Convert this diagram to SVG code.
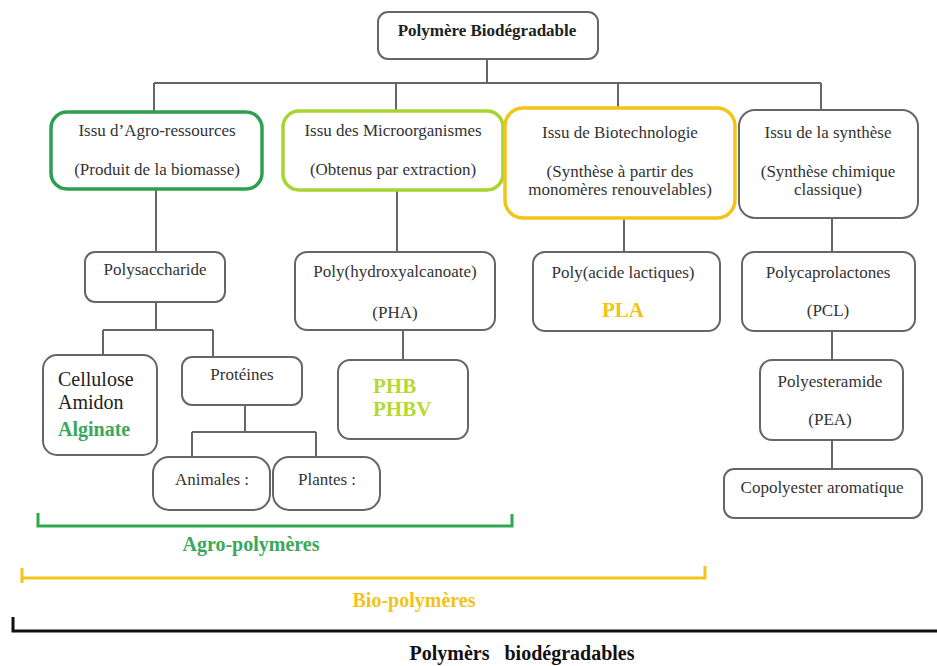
<svg xmlns="http://www.w3.org/2000/svg" width="937" height="666" viewBox="0 0 937 666">
<style>
.box{fill:#fff;stroke:#666;stroke-width:2}
.g1{fill:#fff;stroke:#2e9e4f;stroke-width:3.5}
.g2{fill:#fff;stroke:#a8d432;stroke-width:3.5}
.y1{fill:#fff;stroke:#f2c318;stroke-width:3.5}
text{font-family:'Liberation Serif','DejaVu Serif',serif}
.t{font-size:17px;fill:#333;text-anchor:middle}
.tb{font-weight:bold;fill:#222;text-anchor:middle}
.big{font-size:20px;fill:#222}
.conn line{stroke:#666;stroke-width:2;fill:none}
</style>
<rect width="937" height="666" fill="#fff"/>
<g id="connectors" class="conn">
<line x1="487" y1="59" x2="487" y2="83"/>
<line x1="154" y1="83" x2="821" y2="83"/>
<line x1="154" y1="83" x2="154" y2="112"/>
<line x1="396" y1="83" x2="396" y2="111"/>
<line x1="618" y1="83" x2="618" y2="108"/>
<line x1="821" y1="83" x2="821" y2="110"/>
<line x1="156" y1="189" x2="156" y2="252"/>
<line x1="156" y1="302" x2="156" y2="330"/>
<line x1="103" y1="330" x2="213" y2="330"/>
<line x1="103" y1="330" x2="103" y2="355"/>
<line x1="213" y1="330" x2="213" y2="357"/>
<line x1="245" y1="405" x2="245" y2="432"/>
<line x1="192" y1="432" x2="316" y2="432"/>
<line x1="192" y1="432" x2="192" y2="457"/>
<line x1="316" y1="432" x2="316" y2="457"/>
<line x1="397" y1="190" x2="397" y2="252"/>
<line x1="403" y1="330" x2="403" y2="360"/>
<line x1="624" y1="218" x2="624" y2="252"/>
<line x1="832" y1="218" x2="832" y2="252"/>
<line x1="832" y1="331" x2="832" y2="360"/>
<line x1="832" y1="440" x2="832" y2="469"/>
</g>
<g id="root"><rect class="box" x="378" y="12" width="220" height="47" rx="10"/><text class="tb" x="487" y="36" font-size="17">Polymère Biodégradable</text></g>
<g id="agro"><rect class="g1" x="51" y="112" width="211" height="77" rx="16"/><text class="t" x="157" y="136">Issu d’Agro-ressources</text><text class="t" x="157" y="175">(Produit de la biomasse)</text></g>
<g id="micro"><rect class="g2" x="283" y="111" width="220" height="79" rx="16"/><text class="t" x="393" y="136">Issu des Microorganismes</text><text class="t" x="393" y="175">(Obtenus par extraction)</text></g>
<g id="biotech"><rect class="y1" x="505" y="108" width="230" height="110" rx="18"/><text class="t" x="620" y="138">Issu de Biotechnologie</text><text class="t" x="620" y="177">(Synthèse à partir des</text><text class="t" x="620" y="195">monomères renouvelables)</text></g>
<g id="synthese"><rect class="box" x="739" y="110" width="179" height="108" rx="16"/><text class="t" x="828" y="138">Issu de la synthèse</text><text class="t" x="828" y="177">(Synthèse chimique</text><text class="t" x="828" y="195">classique)</text></g>
<g id="polysaccharide"><rect class="box" x="85" y="252" width="140" height="50" rx="10"/><text class="t" x="155" y="275">Polysaccharide</text></g>
<g id="cellulose"><rect class="box" x="43" y="355" width="114" height="100" rx="14"/><text class="big" x="58" y="386">Cellulose</text><text class="big" x="58" y="409">Amidon</text><text class="big" x="58" y="436" style="font-weight:bold;fill:#3aa85a">Alginate</text></g>
<g id="proteines"><rect class="box" x="182" y="357" width="120" height="48" rx="10"/><text class="t" x="242" y="380">Protéines</text></g>
<g id="animales"><rect class="box" x="153" y="457" width="117" height="53" rx="16"/><text class="t" x="212" y="485">Animales :</text></g>
<g id="plantes"><rect class="box" x="273" y="457" width="107" height="53" rx="16"/><text class="t" x="327" y="485">Plantes :</text></g>
<g id="pha"><rect class="box" x="295" y="252" width="200" height="78" rx="12"/><text class="t" x="395" y="277">Poly(hydroxyalcanoate)</text><text class="t" x="395" y="318">(PHA)</text></g>
<g id="phb"><rect class="box" x="338" y="360" width="130" height="79" rx="12"/><text class="tb" x="373" y="393" font-size="21" style="text-anchor:start;fill:#b5d930">PHB</text><text class="tb" x="373" y="416" font-size="21" style="text-anchor:start;fill:#b5d930">PHBV</text></g>
<g id="pla"><rect class="box" x="533" y="252" width="187" height="79" rx="12"/><text class="t" x="623" y="278">Poly(acide lactiques)</text><text class="tb" x="623" y="317" font-size="21" style="fill:#f2c318">PLA</text></g>
<g id="pcl"><rect class="box" x="742" y="252" width="173" height="79" rx="12"/><text class="t" x="828" y="278">Polycaprolactones</text><text class="t" x="828" y="316">(PCL)</text></g>
<g id="pea"><rect class="box" x="760" y="360" width="143" height="80" rx="12"/><text class="t" x="830" y="387">Polyesteramide</text><text class="t" x="830" y="425">(PEA)</text></g>
<g id="copolyester"><rect class="box" x="724" y="469" width="198" height="49" rx="10"/><text class="t" x="822" y="493">Copolyester aromatique</text></g>
<g id="agro-bracket"><path d="M38,513 V526 H512 V514" fill="none" stroke="#2fa84f" stroke-width="3"/><text class="tb" x="251" y="551" font-size="20" style="fill:#3aa85a">Agro-polymères</text></g>
<g id="bio-bracket"><path d="M22,568 V583 M22,578 H705 V566" fill="none" stroke="#f5c518" stroke-width="3"/><text class="tb" x="414" y="607" font-size="20" style="fill:#f2c318">Bio-polymères</text></g>
<g id="biodeg-bracket"><path d="M13,617 V631 H937" fill="none" stroke="#111" stroke-width="3"/><text class="tb" x="522" y="660" font-size="20" style="fill:#111;white-space:pre">Polymèrs   biodégradables</text></g>
</svg>
